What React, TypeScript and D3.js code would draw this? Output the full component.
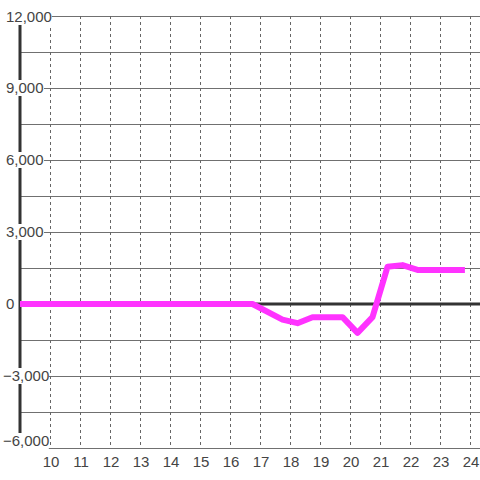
import React from "react";
import * as d3 from "d3";

const xValues = [9, 16.75, 17.75, 18.25, 18.75, 19.75, 20.25, 20.75, 21.25, 21.75, 22.25, 23.83];
const yValues = [0, 0, -650, -800, -550, -550, -1200, -550, 1550, 1620, 1420, 1420];
const xTicks = [10, 11, 12, 13, 14, 15, 16, 17, 18, 19, 20, 21, 22, 23, 24];
const yLabelTicks = [12000, 9000, 6000, 3000, 0, -3000, -6000];
const yGridTicks = [12000, 10500, 9000, 7500, 6000, 4500, 3000, 1500, 0, -1500, -3000, -4500, -6000];

const W = 480;
const H = 480;

export default function App() {
  const x = d3.scaleLinear().domain([9, 24]).range([20, 470]);
  const y = d3.scaleLinear().domain([-6000, 12000]).range([448, 16]);
  const fmt = d3.format(",");
  const line = d3
    .line<number>()
    .x((_, i) => x(xValues[i]))
    .y((d) => y(d));
  const font = "'Liberation Sans', Arial, sans-serif";

  return (
    <svg
      width={W}
      height={H}
      style={{ position: "absolute", left: 0, top: 0, background: "#fff" }}
    >
      <rect x={0} y={0} width={W} height={H} fill="#fff" />
      {yGridTicks.map((t) => (
        <line
          key={"h" + t}
          x1={20}
          x2={W}
          y1={Math.round(y(t)) + 0.5}
          y2={Math.round(y(t)) + 0.5}
          stroke="#707070"
          strokeWidth={1}
        />
      ))}
      {xTicks.map((t) => (
        <line
          key={"v" + t}
          x1={Math.round(x(t)) + 0.5}
          x2={Math.round(x(t)) + 0.5}
          y1={16}
          y2={448}
          stroke="#666"
          strokeWidth={1}
          strokeDasharray="3,3"
        />
      ))}
      <line x1={20} x2={W} y1={y(0)} y2={y(0)} stroke="#333" strokeWidth={3} />
      <line x1={20} x2={20} y1={16} y2={448} stroke="#333" strokeWidth={3} />
      {yLabelTicks.map((t) => {
        const tx = t < 0 ? 3 : 6;
        const label = fmt(t);
        const w = label.length * 7.8 + 2;
        const cy = Math.min(Math.max(y(t), 17), 441);
        return (
          <g key={"yl" + t}>
            <rect x={tx - 3} y={cy - 8} width={w} height={16} fill="#fff" />
            <text
              x={tx}
              y={cy + 5}
              fontFamily={font}
              fontSize={15}
              fill="#444"
              textAnchor="start"
            >
              {label}
            </text>
          </g>
        );
      })}
      {xTicks.map((t) => (
        <text
          key={"xl" + t}
          x={x(t) + 1}
          y={467}
          fontFamily={font}
          fontSize={15}
          fill="#444"
          textAnchor="middle"
        >
          {t}
        </text>
      ))}
      <path
        d={line(yValues) || ""}
        fill="none"
        stroke="#ff33ff"
        strokeWidth={6}
        strokeLinejoin="round"
      />
    </svg>
  );
}
